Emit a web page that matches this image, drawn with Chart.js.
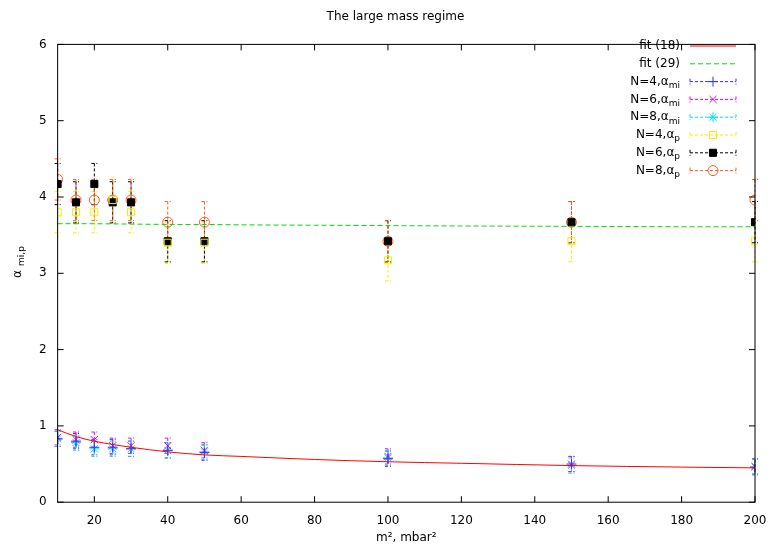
<!DOCTYPE html>
<html><head><meta charset="utf-8">
<script src="https://cdn.jsdelivr.net/npm/chart.js@4"></script>
<style>body{margin:0;background:#fff}#wrap{width:778px;height:545px}</style>
</head><body><div id="wrap"><canvas id="c"></canvas></div>
<script>
var masses = [10, 15, 20, 25, 30, 40, 50, 100, 150, 200];
var fitX = [10, 15, 20, 30, 40, 50, 60, 80, 100, 120, 150, 180, 200];
var fit18 = [0.95, 0.86, 0.80, 0.72, 0.66, 0.62, 0.60, 0.56, 0.53, 0.51, 0.48, 0.46, 0.45];
var fit29 = [3.65, 3.65, 3.65, 3.645, 3.64, 3.64, 3.635, 3.63, 3.625, 3.62, 3.615, 3.61, 3.61];
var n4mi = [0.83, 0.80, 0.72, 0.72, 0.70, 0.68, 0.65, 0.57, 0.50, 0.46];
var n6mi = [0.85, 0.82, 0.82, 0.74, 0.74, 0.74, 0.68, 0.60, 0.50, 0.47];
var n8mi = [0.83, 0.78, 0.70, 0.70, 0.70, 0.68, 0.66, 0.58, 0.48, 0.46];
var n4p = [3.80, 3.80, 3.80, 3.96, 3.80, 3.40, 3.40, 3.17, 3.42, 3.42];
var n6p = [4.17, 3.93, 4.17, 3.93, 3.93, 3.42, 3.42, 3.42, 3.67, 3.67];
var n8p = [4.23, 3.96, 3.96, 3.96, 3.96, 3.67, 3.67, 3.42, 3.67, 3.96];
var errMi = 0.1, errP = 0.27;
var xTicks = [20, 40, 60, 80, 100, 120, 140, 160, 180, 200];

function pts(xs, ys) { return xs.map(function (x, i) { return {x: x, y: ys[i]}; }); }

function series(label, data, color, style, fill, err) {
    return {label: label, data: pts(masses, data), showLine: false, borderColor: color,
        backgroundColor: fill ? color : 'rgba(0,0,0,0)', pointStyle: style, pointRadius: 5,
        pointBorderWidth: 1, err: err};
}

var sets = [
    {label: 'fit (18)', data: pts(fitX, fit18), showLine: true, borderColor: '#ff0000', borderWidth: 1, pointRadius: 0, cubicInterpolationMode: 'monotone'},
    {label: 'fit (29)', data: pts(fitX, fit29), showLine: true, borderColor: '#00dd00', borderWidth: 1, borderDash: [5, 3], pointRadius: 0},
    series('N=4,α', n4mi, '#3030ff', 'cross', false, errMi),
    series('N=6,α', n6mi, '#ee00ee', 'crossRot', false, errMi),
    series('N=8,α', n8mi, '#00e0e0', 'star', false, errMi),
    series('N=4,α', n4p, '#f0f000', 'rect', false, errP),
    series('N=6,α', n6p, '#000000', 'rect', true, errP),
    series('N=8,α', n8p, '#ff5a20', 'circle', false, errP)
];
var subs = ['', '', 'mi', 'mi', 'mi', 'p', 'p', 'p'];

var extras = {
    id: 'extras',
    beforeDatasetsDraw: function (chart) {
        var ctx = chart.ctx, xs = chart.scales.x, ys = chart.scales.y;
        ctx.save();
        chart.data.datasets.forEach(function (ds) {
            if (!ds.err) return;
            ctx.strokeStyle = ds.borderColor; ctx.lineWidth = 1; ctx.setLineDash([3, 2]);
            ds.data.forEach(function (p) {
                var px = xs.getPixelForValue(p.x), t = ys.getPixelForValue(p.y + ds.err), b = ys.getPixelForValue(p.y - ds.err);
                ctx.beginPath(); ctx.moveTo(px, t); ctx.lineTo(px, b);
                ctx.moveTo(px - 3, t); ctx.lineTo(px + 3, t); ctx.moveTo(px - 3, b); ctx.lineTo(px + 3, b); ctx.stroke();
            });
        });
        ctx.restore();
    },
    afterDraw: function (chart) {
        var ctx = chart.ctx, a = chart.chartArea;
        ctx.save();
        ctx.font = '12px "DejaVu Sans"';
        // legend
        chart.data.datasets.forEach(function (ds, i) {
            var y = 46 + i * 17.8, xr = 680;
            ctx.fillStyle = '#000'; ctx.textAlign = 'right'; ctx.textBaseline = 'middle';
            var sw = 0;
            if (subs[i]) {
                ctx.font = '9px "DejaVu Sans"'; sw = ctx.measureText(subs[i]).width;
                ctx.fillText(subs[i], xr, y + 4);
                ctx.font = '12px "DejaVu Sans"';
            }
            ctx.fillText(ds.label, xr - sw, y);
            ctx.strokeStyle = ds.borderColor; ctx.lineWidth = 1;
            ctx.setLineDash(ds.borderDash || (ds.err ? [3, 2] : []));
            ctx.beginPath(); ctx.moveTo(690, y); ctx.lineTo(736, y); ctx.stroke();
            if (ds.err) {
                ctx.beginPath(); ctx.moveTo(690, y - 3); ctx.lineTo(690, y + 3); ctx.moveTo(736, y - 3); ctx.lineTo(736, y + 3); ctx.stroke();
                ctx.setLineDash([]);
                ctx.fillStyle = ds.backgroundColor;
                Chart.helpers.drawPoint(ctx, {pointStyle: ds.pointStyle, radius: 5, borderWidth: 1}, 713, y);
            }
        });
        // y title
        ctx.setLineDash([]); ctx.fillStyle = '#000';
        ctx.translate(18, 262); ctx.rotate(-Math.PI / 2);
        ctx.textAlign = 'center'; ctx.textBaseline = 'middle';
        ctx.font = '12px "DejaVu Sans"'; ctx.fillText('α', -12, 0);
        ctx.font = '9px "DejaVu Sans"'; ctx.fillText('mi,p', 6, 4);
        ctx.restore();
        // ticks inward
        ctx.save(); ctx.strokeStyle = '#000'; ctx.lineWidth = 1;
        var xs = chart.scales.x, ys = chart.scales.y;
        xTicks.forEach(function (v) {
            var p = xs.getPixelForValue(v);
            ctx.beginPath(); ctx.moveTo(p, a.bottom); ctx.lineTo(p, a.bottom - 6); ctx.moveTo(p, a.top); ctx.lineTo(p, a.top + 6); ctx.stroke();
        });
        for (var v = 0; v <= 6; v++) {
            var p = ys.getPixelForValue(v);
            ctx.beginPath(); ctx.moveTo(a.left, p); ctx.lineTo(a.left + 6, p); ctx.moveTo(a.right, p); ctx.lineTo(a.right - 6, p); ctx.stroke();
        }
        ctx.strokeRect(a.left, a.top, a.right - a.left, a.bottom - a.top);
        ctx.restore();
    }
};

new Chart(document.getElementById('c'), {
    type: 'scatter',
    data: {datasets: sets},
    plugins: [extras],
    options: {
        responsive: true, maintainAspectRatio: false, animation: false,
        layout: {padding: {left: 36, right: 23, top: 0, bottom: 0}},
        plugins: {
            legend: {display: false}, tooltip: {enabled: false},
            title: {display: true, text: 'The large mass regime', color: '#000', font: {family: 'DejaVu Sans', size: 12, weight: 'normal'}, padding: {top: 10, bottom: 20}}
        },
        scales: {
            x: {type: 'linear', min: 10, max: 200,
                afterBuildTicks: function (s) { s.ticks = xTicks.map(function (v) { return {value: v}; }); },
                grid: {display: false}, border: {display: false},
                ticks: {color: '#000', font: {family: 'DejaVu Sans', size: 12}, maxRotation: 0},
                title: {display: true, text: 'm², mbar²', color: '#000', font: {family: 'DejaVu Sans', size: 12}, padding: 0}},
            y: {min: 0, max: 6, grid: {display: false}, border: {display: false},
                ticks: {stepSize: 1, color: '#000', font: {family: 'DejaVu Sans', size: 12}}}
        }
    }
});
</script></body></html>
